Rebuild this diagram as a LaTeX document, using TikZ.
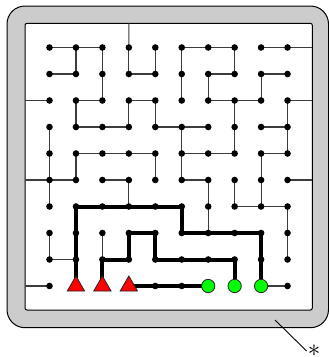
\documentclass[tikz,border=0pt]{standalone}
\usetikzlibrary{shapes.geometric}
\pgfdeclarelayer{framelayer}
\pgfdeclarelayer{bg}
\pgfsetlayers{framelayer,bg,main}
\definecolor{framegrey}{RGB}{204,204,204}
\definecolor{edgegrey}{RGB}{60,60,60}
\definecolor{tgreen}{RGB}{0,255,0}
\definecolor{tred}{RGB}{255,0,0}
\tikzset{
  gdot/.style={circle,fill=black,inner sep=0pt,minimum size=6.6pt},
  wire/.style={draw=edgegrey,line width=1.2pt},
  route/.style={draw=black,line width=4pt,line join=miter},
  source/.style={regular polygon,regular polygon sides=3,fill=tred,draw=black!85,line width=0.8pt,inner sep=0pt,minimum size=20pt},
  sink/.style={circle,fill=tgreen,draw=black!85,line width=0.8pt,inner sep=0pt,minimum size=13.3pt},
  framebox/.style={draw=black,line width=1pt},
}
\begin{document}
\begin{tikzpicture}[x=1pt,y=-1pt]
\useasboundingbox (0,0) rectangle (329,357);
% frame
\begin{pgfonlayer}{framelayer}
\path[framebox,fill=framegrey,rounded corners=18pt] (7,6) rectangle (328.5,327.7);
\path[framebox,fill=white,rounded corners=2pt] (25,23.3) rectangle (312.3,310);
\end{pgfonlayer}
% grid dots rows 0..8
\foreach \i in {0,...,9}{
  \foreach \j in {0,...,8}{
    \node[gdot] (n\i\j) at ({49.5+26.45*\i},{47.5+26.5*\j}) {};
  }
}
% row 9
\foreach \i in {0,4,5,9}{
  \node[gdot] (n\i9) at ({49.5+26.45*\i},286) {};
}
\foreach \i in {1,2,3}{
  \node[source] (n\i9) at ({49.5+26.45*\i},286) {};
}
\foreach \i in {6,7,8}{
  \node[sink] (n\i9) at ({49.5+26.45*\i},286) {};
}
% border coordinates
\coordinate (bt3) at (128.85,23.3);
\coordinate (bl2) at (25,100.5);
\coordinate (bl5) at (25,180);
\coordinate (bl9) at (25,286);
\coordinate (br0) at (312.3,47.5);
\coordinate (br2) at (312.3,100.5);
\coordinate (br5) at (312.3,180);
\begin{pgfonlayer}{bg}
\foreach \a/\b in {00/10,10/20,50/60,60/70,80/90,
                   01/11,31/41,61/71,81/91,
                   12/22,32/42,62/72,72/82,
                   13/23,23/33,43/53,53/63,83/93,
                   14/24,24/34,34/44,54/64,64/74,84/94,
                   05/15,25/35,55/65,
                   76/86,86/96,
                   08/18,
                   03/04,04/05,05/06,07/08,
                   10/11,12/13,14/15,
                   20/21,21/22,27/28,
                   30/31,32/33,35/36,
                   40/41,42/43,44/45,
                   50/51,51/52,53/54,54/55,
                   61/62,65/66,66/67,
                   70/71,72/73,73/74,75/76,
                   81/82,84/85,85/86,
                   92/93,93/94,96/97,97/98}{
  \draw[wire] (n\a.center) -- (n\b.center);
}
\draw[wire] (bt3) -- (n30.center);
\draw[wire] (bl2) -- (n02.center);
\draw[wire] (bl5) -- (n05.center);
\draw[wire] (bl9) -- (n09.center);
\draw[wire] (n90.center) -- (br0);
\draw[wire] (n92.center) -- (br2);
\draw[wire] (n95.center) -- (br5);
\draw[wire] (n89.center) -- (n99.center);
% thick routes
\draw[route] (n19.center) -- (n16.center) -- (n56.center) -- (n57.center) -- (n87.center) -- (n89.center);
\draw[route] (n29.center) -- (n28.center) -- (n38.center) -- (n37.center) -- (n47.center) -- (n48.center) -- (n78.center) -- (n79.center);
\draw[route] (n39.center) -- (n69.center);
\end{pgfonlayer}
% label
\node[inner sep=1pt] (star) at (314,351) {\fontsize{34}{34}\selectfont$\ast$};
\coordinate (lead) at (275,320);
\draw[line width=0.9pt] (lead) -- (star.west);
\end{tikzpicture}
\end{document}
